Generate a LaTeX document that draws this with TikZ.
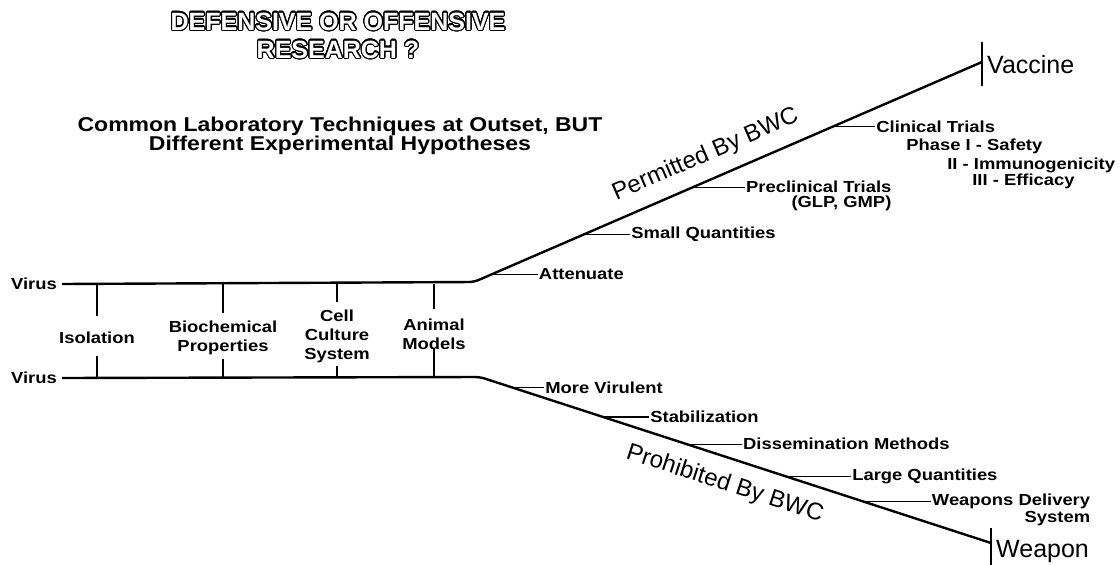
\documentclass[tikz,border=0pt]{standalone}
\usepackage{fontspec}
\setmainfont{Liberation Sans}
\newfontfamily\labfont[FakeStretch=1.15]{Liberation Sans}
\usepackage{contour}
\contourlength{1.1pt}
\contournumber{32}
\usetikzlibrary{positioning}

\begin{document}
\begin{tikzpicture}[
  x=1pt, y=-1pt,
  lab/.style={font=\labfont\bfseries\fontsize{16}{19}\selectfont, inner sep=1pt, align=center},
  head/.style={font=\labfont\bfseries\fontsize{20}{19}\selectfont, align=center, inner sep=0pt},
  ttl/.style={font=\bfseries\fontsize{25}{28}\selectfont, inner sep=0pt},
  endlab/.style={font=\fontsize{25}{27}\selectfont, inner sep=1pt, anchor=west},
  bwc/.style={font=\fontsize{24}{26}\selectfont, sloped, inner xsep=1pt},
  main/.style={line width=2.4pt, rounded corners=5pt},
  bar/.style={line width=1.8pt},
  tk/.style={line width=1.3pt}
]
\useasboundingbox (0,0) rectangle (1120,565);

% headings
\node[ttl] (ttlA) at (338,22) {\color{white}\contour{black}{DEFENSIVE OR OFFENSIVE}};
\node[ttl] (ttlB) at (338,50) {\color{white}\contour{black}{RESEARCH ?}};
\node[head] (cmn) at (340,136) {Common Laboratory Techniques at Outset, BUT\\Different Experimental Hypotheses};

% common start
\node[lab, anchor=east, inner xsep=5pt] (virA) at (62,284) {Virus};
\node[lab, anchor=east, inner xsep=5pt] (virB) at (62,378) {Virus};
\coordinate (bA) at (474,282);
\coordinate (bB) at (480,377);
\coordinate (vt) at (982,62);
\coordinate (wt) at (991,543);

\node[lab] (iso) at (97,338) {Isolation};
\node[lab] (bio) at (223,338) {Biochemical\\Properties};
\node[lab] (cel) at (337,336) {Cell\\Culture\\System};
\node[lab] (ani) at (434,334) {Animal\\Models};
\foreach \n/\u/\d in {iso/32/22, bio/29/19, cel/18/12, ani/25/30}{
  \draw[bar] (\n |- virA) -- ++(0,\u);
  \draw[bar] (\n |- virB) -- ++(0,-\d);
}

% permitted route
\draw[main] (virA.east) -- (bA) -- coordinate[pos=.035] (pAtt) coordinate[pos=.215] (pSmq)
  coordinate[pos=.431] (pPre) coordinate[pos=.707] (pCli)
  node[bwc, above, pos=.475, inner ysep=12pt] (perm) {Permitted By BWC} (vt);
\draw[bar] ([yshift=20pt]vt) -- ([yshift=-24pt]vt);
\node[endlab] (vac) at (986,65) {Vaccine};

\node[lab, right=46pt of pAtt] (att) {Attenuate};
\node[lab, right=47pt of pSmq] (smq) {Small Quantities};
\node[lab, right=52pt of pPre] (pre) {Preclinical Trials};
\node[lab, anchor=north east] (glp) at (pre.south east) {(GLP, GMP)};
\node[lab, right=42pt of pCli] (cli) {Clinical Trials};
\node[lab, anchor=west] (ph1) at ([shift={(30pt,-20pt)}]cli.west) {Phase I - Safety};
\node[lab, anchor=west] (ph2) at ([shift={(71pt,-39pt)}]cli.west) {II - Immunogenicity};
\node[lab, anchor=west] (ph3) at ([shift={(96pt,-55pt)}]cli.west) {III - Efficacy};
\foreach \p/\n in {pAtt/att, pSmq/smq, pPre/pre, pCli/cli}
  \draw[tk] (\p) -- (\n.west);

% prohibited route
\draw[main] (virB.east) -- (bB) -- coordinate[pos=.063] (pMv) coordinate[pos=.241] (pSta)
  coordinate[pos=.405] (pDis) coordinate[pos=.599] (pLq) coordinate[pos=.751] (pWd)
  node[bwc, below, pos=.495, inner ysep=14pt] (proh) {Prohibited By BWC} (wt);
\draw[bar] ([yshift=15pt]wt) -- ([yshift=-22pt]wt);
\node[endlab] (wpn) at (995,551) {Weapon};

\node[lab, right=32pt of pMv] (mv) {More Virulent};
\node[lab, right=46pt of pSta] (sta) {Stabilization};
\node[lab, right=55pt of pDis] (dis) {Dissemination Methods};
\node[lab, right=65pt of pLq] (lq) {Large Quantities};
\node[lab, right=67pt of pWd] (wd) {Weapons Delivery};
\node[lab, anchor=north east] (sys) at (wd.south east) {System};
\foreach \p/\n in {pMv/mv, pSta/sta, pDis/dis, pLq/lq, pWd/wd}
  \draw[tk] (\p) -- (\n.west);
\end{tikzpicture}
\end{document}
